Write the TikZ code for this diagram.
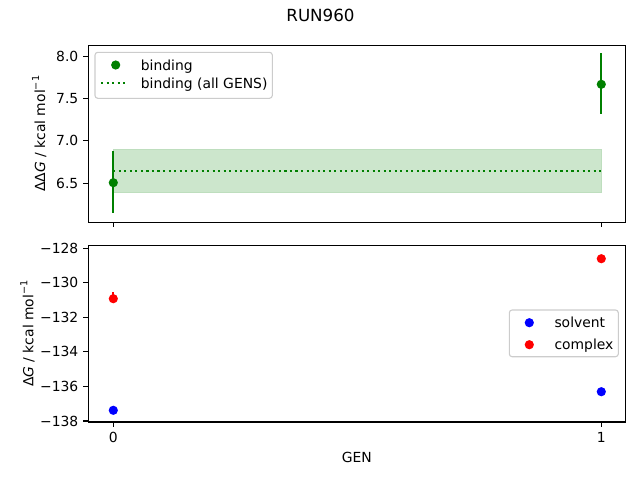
\documentclass[tikz,border=0pt]{standalone}
\usepackage{fontspec}
\setmainfont{DejaVu Sans}
\definecolor{mgreen}{RGB}{0,128,0}
\definecolor{mred}{RGB}{255,0,0}
\definecolor{mblue}{RGB}{0,0,255}
\definecolor{bandfill}{RGB}{204,230,204}
\definecolor{bandedge}{RGB}{190,222,190}
\definecolor{legedge}{RGB}{204,204,204}
\newcommand{\supm}{\raisebox{0.42em}{\fontsize{9.7}{10}\selectfont −1}}
\begin{document}
\begin{tikzpicture}[x=1pt,y=-1pt,
  lab/.style={font=\fontsize{13.9}{16}\selectfont, inner sep=0pt},
  spine/.style={line width=1.1pt, draw=black},
  tickmark/.style={line width=1.1pt, black},
  ebar/.style={line width=2.08pt},
  dot/.style={circle, inner sep=0pt, minimum size=9.2pt},
  legbox/.style={draw=legedge, fill=white, fill opacity=0.8, rounded corners=2.8pt, line width=1.1pt},
  dotline/.style={line width=2.08pt, mgreen, dash pattern=on 2.08pt off 3.44pt}]
\useasboundingbox (0,0) rectangle (640,480);

% title
\node[lab, font=\fontsize{16.7}{20}\selectfont, anchor=base] (title) at (320.5,21.5) {RUN960};

% ---------- top axes ----------
\fill[bandfill] (113.3,149.3) rectangle (601.3,192.3);
\draw[bandedge, line width=1pt] (113.3,149.3) rectangle (601.3,192.3);
\coordinate (d0) at (113.3,170.7);
\coordinate (d1) at (601.3,170.7);
\draw[dotline] (d0) -- (d1);

\coordinate (e0a) at (113.3,151);
\coordinate (e0b) at (113.3,213.3);
\coordinate (e1a) at (601.3,53.3);
\coordinate (e1b) at (601.3,114.3);
\draw[ebar, mgreen] (e0a) -- (e0b);
\draw[ebar, mgreen] (e1a) -- (e1b);
\node[dot, fill=mgreen] (b0) at (113.3,182.7) {};
\node[dot, fill=mgreen] (b1) at (601.3,84.3) {};

\draw[spine] (88.3,45.3) rectangle (625.5,222.3);
\foreach \y/\t in {56.6/8.0, 98.75/7.5, 140.9/7.0, 183.05/6.5}{
  \draw[tickmark] (88.3,\y) -- (83.4,\y);
  \node[lab, anchor=east] at (78.5,\y) {\t};
}
\foreach \x in {113.3, 601.3}{
  \draw[tickmark] (\x,222.3) -- (\x,227.2);
}
\node[lab, rotate=90, anchor=base] (ylab1) at (45,133.8) {ΔΔ\textit{G} / kcal mol\supm};

% legend top
\draw[legbox] (95,52.3) rectangle (272.3,98.3);
\node[dot, fill=mgreen] (lg1) at (115.7,65) {};
\node[lab, anchor=base west] (lt1) at (140.7,70) {binding};
\coordinate (l2a) at (101,83.3);
\coordinate (l2b) at (126.7,83.3);
\draw[dotline] (l2a) -- (l2b);
\node[lab, anchor=base west] (lt2) at (140.7,88.3) {binding (all GENS)};

% ---------- bottom axes ----------
\coordinate (r0a) at (113.3,292.3);
\coordinate (r0b) at (113.3,298.7);
\draw[ebar, mred] (r0a) -- (r0b);
\node[dot, fill=mred] (c0) at (113.3,298.7) {};
\node[dot, fill=mred] (c1) at (601.3,258.7) {};
\node[dot, fill=mblue] (s0) at (113.3,410.3) {};
\node[dot, fill=mblue] (s1) at (601.3,391.7) {};

\draw[spine] (88.3,245.3) rectangle (625.5,422);
\foreach \y/\t in {248.3/−128, 282.85/−130, 317.4/−132, 351.9/−134, 386.45/−136, 421/−138}{
  \draw[tickmark] (88.3,\y) -- (83.4,\y);
  \node[lab, anchor=east] at (78.5,\y) {\t};
}
\foreach \x/\t in {113.3/0, 601.3/1}{
  \draw[tickmark] (\x,422) -- (\x,426.9);
  \node[lab, anchor=north] at (\x,432.3) {\t};
}
\node[lab, anchor=base] (xlab) at (356.9,462.5) {GEN};
\node[lab, rotate=90, anchor=base] (ylab2) at (33.3,333.7) {Δ\textit{G} / kcal mol\supm};

% legend bottom
\draw[legbox] (509.3,310) rectangle (618.3,356.7);
\node[dot, fill=mblue] (lg3) at (529.3,322.7) {};
\node[lab, anchor=base west] (lt3) at (554.3,327.7) {solvent};
\node[dot, fill=mred] (lg4) at (529.3,344.7) {};
\node[lab, anchor=base west] (lt4) at (554.3,349.7) {complex};
\end{tikzpicture}
\end{document}
